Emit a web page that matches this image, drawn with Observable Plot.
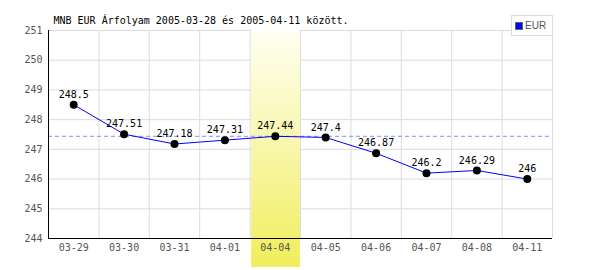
<!DOCTYPE html>
<html>
<head>
<meta charset="utf-8">
<script src="https://cdn.jsdelivr.net/npm/d3@7"></script>
<script src="https://cdn.jsdelivr.net/npm/@observablehq/plot@0.6"></script>
<style>
  body { margin: 0; background: #fff; }
  #wrap { position: relative; width: 600px; height: 270px; }
  #legend { position: absolute; left: 511px; top: 15px; width: 42px; height: 21px; box-sizing: border-box;
    border: 1px solid #dcdcdc; background: #fff; font: 10px "Liberation Sans", Arial, sans-serif; color: #555; }
  #legend .sw { position: absolute; left: 3px; top: 6px; width: 6px; height: 6px; background: #0000ff; border: 1px solid #666; }
  #legend .lb { position: absolute; left: 13px; top: 4px; }
</style>
</head>
<body>
<div id="wrap"><div id="legend"><span class="sw"></span><span class="lb">EUR</span></div></div>
<script>
const title = "MNB EUR Árfolyam 2005-03-28 és 2005-04-11 között.";
const dates = ["03-29","03-30","03-31","04-01","04-04","04-05","04-06","04-07","04-08","04-11"];
const values = [248.5, 247.51, 247.18, 247.31, 247.44, 247.4, 246.87, 246.2, 246.29, 246];
const highlightIndex = 4;
const refValue = 247.44;
const yTicks = [244, 245, 246, 247, 248, 249, 250, 251];

const data = dates.map((d, i) => ({i, x: i + 0.5, date: d, value: values[i]}));
const mono = "DejaVu Sans Mono, monospace";

const chart = Plot.plot({
  width: 600, height: 270,
  marginTop: 30, marginBottom: 32, marginLeft: 48, marginRight: 48,
  style: {fontFamily: mono, fontSize: "10px", overflow: "visible", background: "transparent"},
  x: {domain: [0, dates.length], axis: null, label: null},
  y: {domain: [244, 251], axis: null, label: null},
  marks: [
    Plot.ruleY(yTicks.slice(1), {stroke: "#dcdcdc"}),
    Plot.ruleX(d3.range(1, dates.length + 1), {stroke: "#dcdcdc"}),
    Plot.rect([highlightIndex], {x1: d => d, x2: d => d + 1, y1: 251, y2: 244, fill: "url(#hl)", insetLeft: 1.5, insetBottom: -29}),
    Plot.ruleY([refValue], {stroke: "#8a8aff", strokeDasharray: "4,3"}),
    Plot.ruleX([0], {stroke: "#000"}),
    Plot.ruleY([244], {stroke: "#000"}),
    Plot.axisY({ticks: yTicks, tickFormat: d => String(d), label: null, tickSize: 0, tickPadding: 6, fill: "#555", fontSize: 10}),
    Plot.axisX({ticks: data.map(d => d.x), tickFormat: (v) => dates[Math.round(v - 0.5)], label: null, tickSize: 0, tickPadding: 5, fill: "#555", fontSize: 10}),
    Plot.line(data, {x: "x", y: "value", stroke: "#0000ff", strokeWidth: 1}),
    Plot.dot(data, {x: "x", y: "value", r: 4, fill: "#000", stroke: "none"}),
    Plot.text(data, {x: "x", y: "value", text: d => String(d.value), dy: -10, fill: "#000", fontSize: 10, lineAnchor: "middle"}),
    Plot.text([title], {frameAnchor: "top-left", dx: 5, dy: -10, text: d => d, textAnchor: "start", lineAnchor: "middle", fill: "#000", fontSize: 10})
  ]
});

const defs = document.createElementNS("http://www.w3.org/2000/svg", "defs");
defs.innerHTML = '<linearGradient id="hl" x1="0" y1="0" x2="0" y2="1"><stop offset="0" stop-color="#fffff4"/><stop offset="1" stop-color="#f0ee5c"/></linearGradient>';
chart.insertBefore(defs, chart.firstChild);
chart.style.position = "absolute";
chart.style.left = "0"; chart.style.top = "0";
const wrap = document.getElementById("wrap");
wrap.insertBefore(chart, wrap.firstChild);
</script>
</body>
</html>
